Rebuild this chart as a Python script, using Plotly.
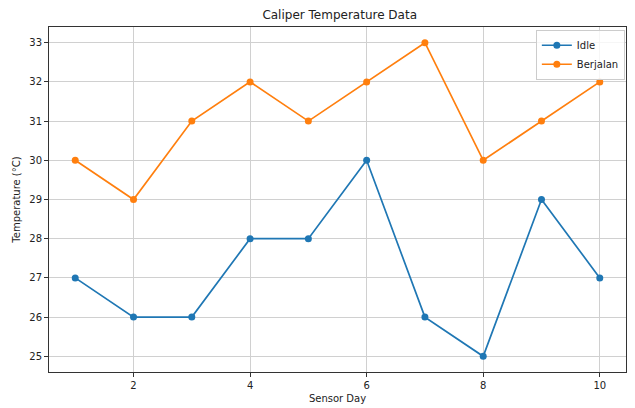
import plotly.graph_objects as go

days = [1, 2, 3, 4, 5, 6, 7, 8, 9, 10]
idle = [27, 26, 26, 28, 28, 30, 26, 25, 29, 27]
berjalan = [30, 29, 31, 32, 31, 32, 33, 30, 31, 32]

fig = go.Figure()
fig.add_trace(go.Scatter(x=days, y=idle, mode="lines+markers", name="Idle",
                         line=dict(color="#1f77b4", width=1.7),
                         marker=dict(size=7, color="#1f77b4")))
fig.add_trace(go.Scatter(x=days, y=berjalan, mode="lines+markers", name="Berjalan",
                         line=dict(color="#ff7f0e", width=1.7),
                         marker=dict(size=7, color="#ff7f0e")))

font = "DejaVu Sans"
fig.update_layout(
    width=635, height=408,
    margin=dict(l=49, r=9, t=27, b=36),
    paper_bgcolor="white", plot_bgcolor="white",
    font=dict(family=font, size=10, color="#222"),
    title=dict(text="Caliper Temperature Data", x=0.535, xanchor="center",
               y=1 - 15/408, yanchor="middle", font=dict(size=12, color="#222")),
    showlegend=True,
    legend=dict(x=0.998, y=0.992, xanchor="right", yanchor="top",
                bgcolor="rgba(255,255,255,0.8)", bordercolor="#ccc", borderwidth=1,
                font=dict(size=10), itemwidth=30, tracegroupgap=0),
    xaxis=dict(range=[0.55, 10.45], tickvals=[2, 4, 6, 8, 10], automargin=False,
               showgrid=True, gridcolor="#d0d0d0", gridwidth=1,
               showline=True, linecolor="#333", mirror=True, linewidth=1,
               ticks="outside", ticklen=4, tickcolor="#333", zeroline=False,
               title=dict(text="Sensor Day", standoff=4, font=dict(size=10))),
    yaxis=dict(range=[24.6, 33.4], tickvals=[25, 26, 27, 28, 29, 30, 31, 32, 33],
               automargin=False,
               showgrid=True, gridcolor="#d0d0d0", gridwidth=1,
               showline=True, linecolor="#333", mirror=True, linewidth=1,
               ticks="outside", ticklen=4, tickcolor="#333", zeroline=False,
               title=dict(text="Temperature (°C)", standoff=6, font=dict(size=10))),
)
fig.write_html("out.html", config={"displayModeBar": False},
               post_script="document.body.style.margin='0';document.body.style.overflow='hidden';")
